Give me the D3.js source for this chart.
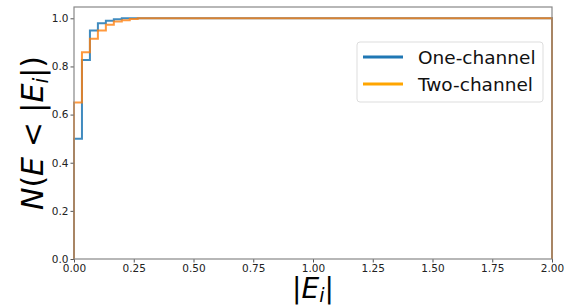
<!DOCTYPE html>
<html>
<head>
<meta charset="utf-8">
<script src="https://cdn.jsdelivr.net/npm/d3@7"></script>
<style>
  body { margin: 0; background: #fff; }
  text { font-family: "DejaVu Sans", sans-serif; }
</style>
</head>
<body>
<svg id="chart" width="565" height="307"></svg>
<script>
// cumulative fraction per bin, 60 bins over [0, 2]
const binCount = 60;
const xDomain = [0, 2];
const oneChannel = [0.50, 0.827, 0.949, 0.980, 0.990, 0.996,
  1, 1, 1, 1, 1, 1, 1, 1, 1, 1, 1, 1, 1, 1, 1, 1, 1, 1, 1, 1, 1, 1, 1, 1,
  1, 1, 1, 1, 1, 1, 1, 1, 1, 1, 1, 1, 1, 1, 1, 1, 1, 1, 1, 1, 1, 1, 1, 1,
  1, 1, 1, 1, 1, 1];
const twoChannel = [0.65, 0.859, 0.915, 0.949, 0.973, 0.987, 0.992, 0.997,
  1, 1, 1, 1, 1, 1, 1, 1, 1, 1, 1, 1, 1, 1, 1, 1, 1, 1, 1, 1, 1, 1,
  1, 1, 1, 1, 1, 1, 1, 1, 1, 1, 1, 1, 1, 1, 1, 1, 1, 1, 1, 1, 1, 1, 1, 1,
  1, 1, 1, 1, 1, 1];
const xTicks = [0, 0.25, 0.5, 0.75, 1, 1.25, 1.5, 1.75, 2];
const yTicks = [0, 0.2, 0.4, 0.6, 0.8, 1.0];
const seriesNames = ["One-channel", "Two-channel"];

const svg = d3.select("#chart");
const margin = { top: 7, right: 13, bottom: 48, left: 74 };
const width = 565 - margin.left - margin.right;
const height = 307 - margin.top - margin.bottom;

const x = d3.scaleLinear().domain(xDomain).range([0, width]);
const y = d3.scaleLinear().domain([0, 1.047]).range([height, 0]);

const g = svg.append("g")
  .attr("transform", "translate(" + margin.left + "," + margin.top + ")");

// step outline like matplotlib histtype='step'
function stepPath(vals) {
  const w = (xDomain[1] - xDomain[0]) / binCount;
  let pts = [[0, 0]];
  vals.forEach((v, i) => {
    pts.push([i * w, v]);
    pts.push([(i + 1) * w, v]);
  });
  pts.push([xDomain[1], 0]);
  return d3.line().x(d => x(d[0])).y(d => y(d[1]))(pts);
}

g.append("path")
  .attr("d", stepPath(oneChannel))
  .attr("fill", "none")
  .attr("stroke", "#1f77b4")
  .attr("stroke-opacity", 0.85)
  .attr("stroke-width", 2);

g.append("path")
  .attr("d", stepPath(twoChannel))
  .attr("fill", "none")
  .attr("stroke", "#ff7f0e")
  .attr("stroke-opacity", 0.8)
  .attr("stroke-width", 2);

// axes
const xAxis = g.append("g")
  .attr("transform", "translate(0," + height + ")")
  .call(d3.axisBottom(x).tickValues(xTicks).tickFormat(d3.format(".2f")).tickSizeOuter(0).tickSize(3.5).tickPadding(2));
const yAxis = g.append("g")
  .call(d3.axisLeft(y).tickValues(yTicks).tickFormat(d3.format(".1f")).tickSizeOuter(0).tickSize(3.5).tickPadding(2));

[xAxis, yAxis].forEach(a => {
  a.select(".domain").remove();
  a.selectAll("line").attr("stroke", "#555");
  a.selectAll("text").style("font-size", "10.5px").attr("fill", "#222");
});

// spines
g.append("rect")
  .attr("x", 0).attr("y", 0)
  .attr("width", width).attr("height", height)
  .attr("fill", "none")
  .attr("stroke", "#888")
  .attr("stroke-width", 1.2);

// axis labels
const ylab = svg.append("text")
  .attr("transform", "translate(43," + (margin.top + height / 2) + ") rotate(-90)")
  .attr("text-anchor", "middle")
  .style("font-size", "30px");
ylab.append("tspan").style("font-style", "italic").text("N");
ylab.append("tspan").text("(");
ylab.append("tspan").style("font-style", "italic").text("E");
ylab.append("tspan").text(" < |");
ylab.append("tspan").style("font-style", "italic").text("E");
ylab.append("tspan").style("font-style", "italic").style("font-size", "21px").attr("dy", 5).text("i");
ylab.append("tspan").attr("dy", -5).text("|)");

const xlab = svg.append("text")
  .attr("x", margin.left + width / 2)
  .attr("y", 298)
  .attr("text-anchor", "middle")
  .style("font-size", "28px");
xlab.append("tspan").text("|");
xlab.append("tspan").style("font-style", "italic").text("E");
xlab.append("tspan").style("font-style", "italic").style("font-size", "19px").attr("dy", 4).text("i");
xlab.append("tspan").attr("dy", -4).text("|");

// legend
const legend = svg.append("g").attr("transform", "translate(357,42)");
legend.append("rect")
  .attr("width", 186).attr("height", 60)
  .attr("rx", 3)
  .attr("fill", "white")
  .attr("fill-opacity", 0.8)
  .attr("stroke", "#ddd");
const legendColors = ["#1f77b4", "orange"];
seriesNames.forEach((name, i) => {
  const row = legend.append("g").attr("transform", "translate(0," + (15 + i * 27) + ")");
  row.append("line")
    .attr("x1", 6).attr("x2", 46)
    .attr("stroke", legendColors[i])
    .attr("stroke-width", 3);
  row.append("text")
    .attr("x", 61).attr("y", 6.5)
    .style("font-size", "18.5px")
    .attr("fill", "#111")
    .text(name);
});
</script>
</body>
</html>
